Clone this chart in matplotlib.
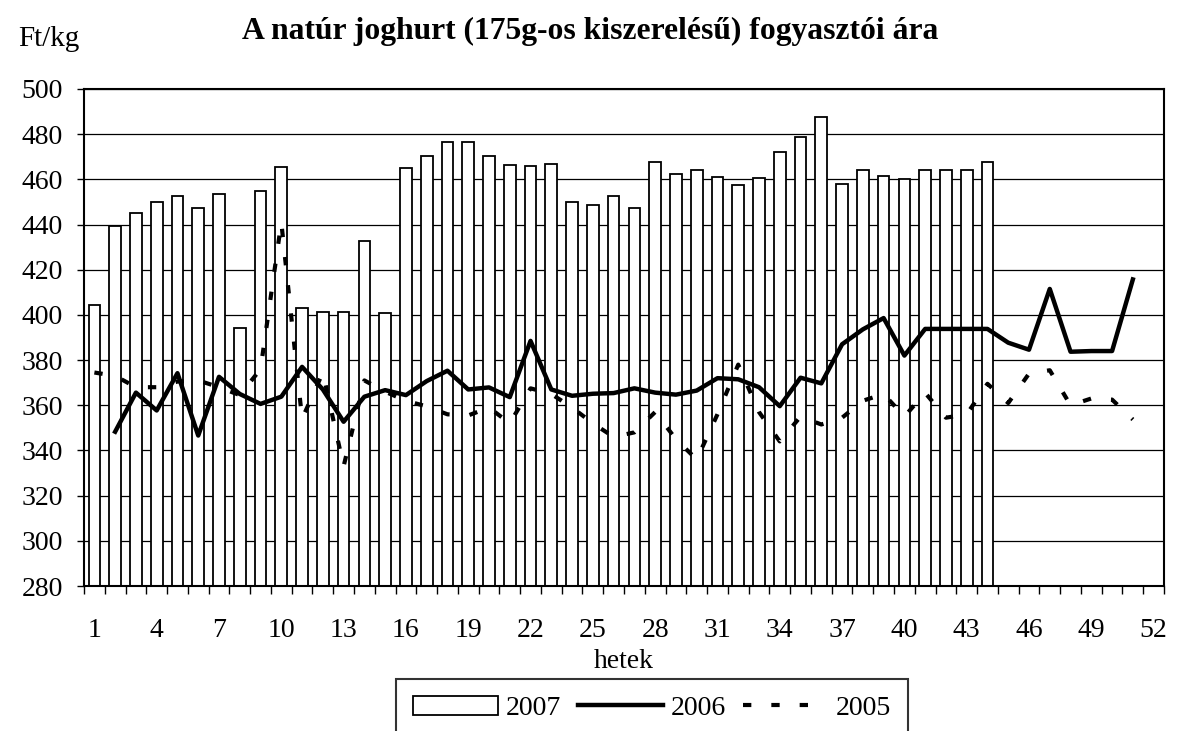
import matplotlib
matplotlib.use('Agg')
import matplotlib.pyplot as plt
import numpy as np
from matplotlib.patches import Patch
from matplotlib.lines import Line2D

plt.rcParams['font.family'] = ['Liberation Serif', 'DejaVu Serif']

nan = np.nan
weeks = np.arange(1, 53)
tick_weeks = np.arange(1, 53, 3)

# 2007: weeks 1-44 (bars)
price_2007 = [404.4, 439.5, 445.0, 449.8, 452.8, 447.5, 453.7, 394.3, 454.8, 465.6,
              402.9, 401.1, 401.1, 432.7, 401.0, 464.9, 470.5, 476.5, 476.5, 470.5,
              466.2, 465.9, 466.9, 450.0, 448.5, 452.8, 447.5, 467.8, 462.2, 464.1,
              461.0, 457.4, 460.5, 472.3, 478.8, 487.7, 458.1, 464.1, 461.6, 460.2,
              464.0, 464.0, 464.0, 467.7]

# 2006: weeks 2-51
price_2006 = [nan, 348.3, 365.6, 357.7, 374.2, 346.6, 372.6, 365.0, 360.6, 363.8,
              377.0, 367.0, 352.7, 363.8, 366.7, 364.5, 370.7, 375.3, 367.0, 367.9,
              363.6, 388.5, 367.0, 364.2, 365.1, 365.4, 367.5, 365.6, 364.7, 366.5,
              372.0, 371.5, 368.0, 359.6, 372.2, 369.7, 387.0, 393.6, 398.6, 382.0,
              393.8, 393.8, 393.8, 393.8, 387.7, 384.6, 411.5, 383.7, 384.0, 384.0,
              415.7, nan]

# 2005: weeks 1-51
price_2005 = [374.5, 373.0, 368.0, 368.0, 370.5, 371.0, 368.0, 364.5, 376.0, 441.0,
              354.0, 374.5, 333.0, 371.0, 366.0, 362.0, 359.5, 356.0, 355.5, 359.0,
              352.0, 367.5, 365.0, 359.0, 352.0, 346.0, 348.0, 357.0, 345.0, 336.0,
              356.0, 378.0, 357.0, 344.0, 355.0, 351.5, 354.5, 362.0, 365.0, 355.0,
              365.5, 354.5, 356.0, 369.5, 361.0, 374.0, 375.5, 360.0, 363.0, 362.5,
              353.7, nan]

dash = (0, (2.0, 4.8))

W, H = 1178, 731
fig = plt.figure(figsize=(W / 100, H / 100), dpi=100)
ax = fig.add_axes([84 / W, 1 - 586 / H, (1164 - 84) / W, (586 - 89) / H])

ax.bar(weeks[:len(price_2007)], price_2007, width=0.56, bottom=0,
       color='white', edgecolor='black', linewidth=1.3, zorder=2)
ax.plot(weeks, price_2005, color='black', lw=3, linestyle=dash, zorder=3)
ax.plot(weeks, price_2006, color='black', lw=3.2, zorder=4)

ax.set_xlim(0.5, 52.5)
ax.set_ylim(280, 500)
ax.set_yticks(np.arange(280, 501, 20))
ax.yaxis.grid(True, color='black', lw=0.9)
ax.set_axisbelow(True)

ax.set_xticks(np.arange(0.5, 53, 1))
ax.set_xticklabels([])
ax.set_xticks(tick_weeks, minor=True)
ax.set_xticklabels([str(w) for w in tick_weeks], minor=True)
ax.tick_params(axis='x', which='major', direction='out', length=6, width=1)
ax.tick_params(axis='x', which='minor', length=0, pad=23, labelsize=20)
ax.tick_params(axis='y', direction='out', length=5, width=1, pad=10, labelsize=20)

for s in ax.spines.values():
    s.set_linewidth(1.5)
    s.set_color('black')

fig.text(590 / W, 1 - 31 / H, 'A natúr joghurt (175g-os kiszerelésű) fogyasztói ára',
         ha='center', va='center', fontsize=22.8, fontweight='bold')
fig.text(18 / W, 1 - 39 / H, 'Ft/kg', ha='left', va='center', fontsize=21)
fig.text(624 / W, 1 - 661 / H, 'hetek', ha='center', va='center', fontsize=20)

handles = [Patch(facecolor='white', edgecolor='black', linewidth=1.3),
           Line2D([], [], color='black', lw=3.2),
           Line2D([], [], color='black', lw=3, linestyle=dash)]
leg = fig.legend(handles, ['2007', '2006', '2005'], loc='upper center',
                 bbox_to_anchor=(652 / W, 1 - 679 / H), ncol=3, fontsize=20,
                 frameon=True, fancybox=False, edgecolor='black',
                 handlelength=3.05, handletextpad=0.3, columnspacing=0.6,
                 borderpad=0.6, borderaxespad=0)
leg.get_frame().set_linewidth(1.5)

fig.savefig('out.png', dpi=100)
